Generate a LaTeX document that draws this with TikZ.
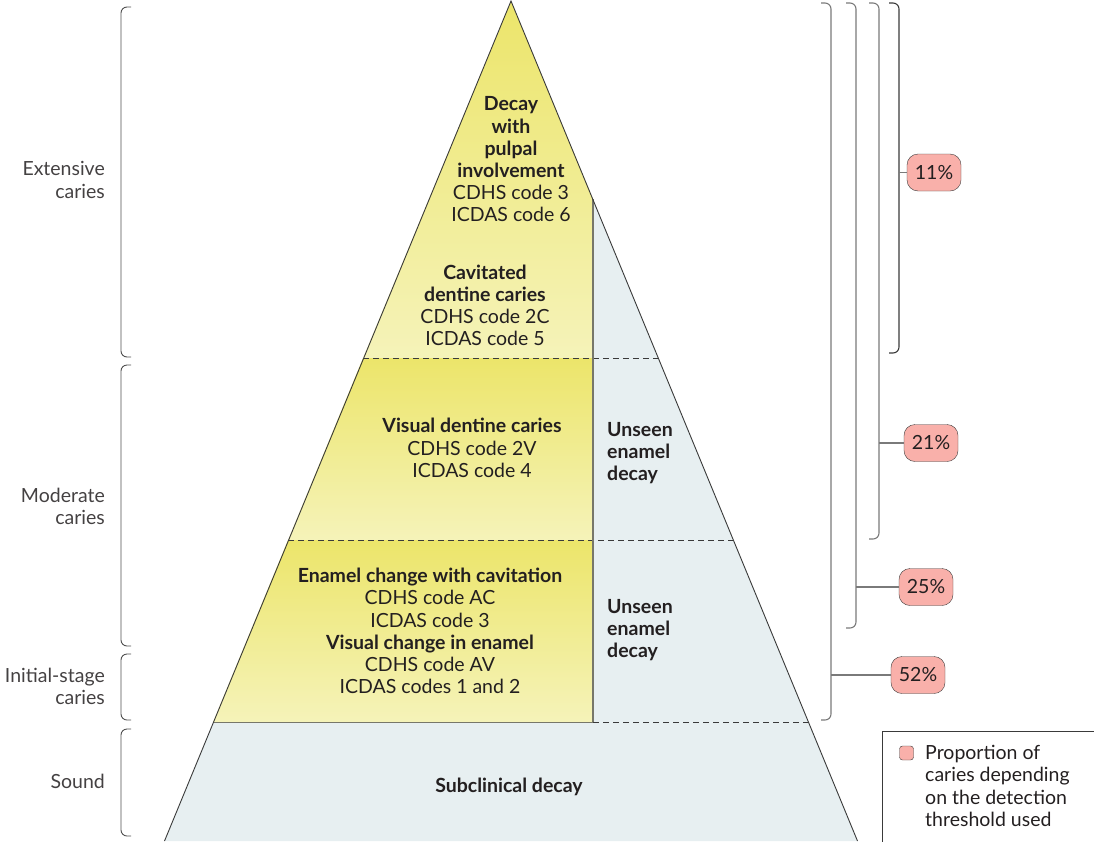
\documentclass[tikz,border=0pt]{standalone}
\usepackage{fontspec}
\setmainfont{Lato}
\definecolor{yel}{HTML}{ECE56A}
\definecolor{yellight}{HTML}{F5F3B9}
\definecolor{bluegrey}{HTML}{E7EFF1}
\definecolor{pinkbox}{HTML}{F9B0AA}
\definecolor{txt}{HTML}{231F20}
\definecolor{linegrey}{HTML}{3A3A3A}
\definecolor{brk}{HTML}{7A7A7A}
\definecolor{divider}{HTML}{77776A}
\begin{document}
\begin{tikzpicture}[x=1pt,y=-1pt,
  lbl/.style={font=\fontsize{19.5}{22.2}\selectfont, text=txt, inner sep=0pt, align=center},
  side/.style={font=\fontsize{19.5}{22.2}\selectfont, text=txt!85, inner sep=0pt, align=right, anchor=east},
  pct/.style={draw=linegrey, fill=pinkbox, rounded corners=11pt, minimum width=54pt, minimum height=37pt, inner sep=0pt, font=\fontsize{19.5}{22}\selectfont, text=txt},
  brack/.style={draw=brk, line width=1.1pt, rounded corners=6pt},
  lbrack/.style={draw=linegrey!90, line width=0.9pt, rounded corners=6pt},
  dashline/.style={draw=linegrey, dashed, dash pattern=on 6pt off 4pt, line width=0.9pt},
  edge/.style={draw=linegrey, line width=0.9pt}
]
\useasboundingbox (0,0) rectangle (1094,841);
% base fill
\fill[bluegrey] (164.5,841) -- (511,1) -- (857.5,841) -- cycle;
% yellow bands
\shade[top color=yel, bottom color=yellight] (511,1) -- (593,199) -- (593,358) -- (363,358) -- cycle;
\shade[top color=yel, bottom color=yellight] (363,358) -- (593,358) -- (593,540) -- (288,540) -- cycle;
\shade[top color=yel, bottom color=yellight] (288,540) -- (593,540) -- (593,722) -- (213,722) -- cycle;
% dividers
\draw[dashline] (363,358) -- (659,358);
\draw[dashline] (288,540) -- (734,540);
\draw[dashline] (593,722) -- (809,722);
\draw[draw=divider, line width=0.9pt] (213,722) -- (593,722);
\draw[draw=divider, line width=1.3pt] (593,199) -- (593,722);
% outline
\draw[edge] (164.5,841) -- (511,1) -- (857.5,841);

% texts in pyramid
\node[lbl] (t1) at (511,159.5) {\textbf{Decay}\\\textbf{with}\\\textbf{pulpal}\\\textbf{involvement}\\CDHS code 3\\ICDAS code 6};
\node[lbl] (t2) at (485,305.5) {\textbf{Cavitated}\\\textbf{dentine caries}\\CDHS code 2C\\ICDAS code 5};
\node[lbl] (t3) at (472,448) {\textbf{Visual dentine caries}\\CDHS code 2V\\ICDAS code 4};
\node[lbl, align=left, anchor=west] (u1) at (607,453) {\textbf{Unseen}\\\textbf{enamel}\\\textbf{decay}};
\node[lbl] (t4) at (430,631) {\textbf{Enamel change with cavitation}\\CDHS code AC\\ICDAS code 3\\\textbf{Visual change in enamel}\\CDHS code AV\\ICDAS codes 1 and 2};
\node[lbl, align=left, anchor=west] (u2) at (607,630) {\textbf{Unseen}\\\textbf{enamel}\\\textbf{decay}};
\node[lbl] (t5) at (509,787) {\textbf{Subclinical decay}};

% left labels and brackets
\node[side] (l1) at (105,180) {Extensive\\caries};
\node[side] (l2) at (105,506) {Moderate\\caries};
\node[side] (l3) at (105,686) {Initial-stage\\caries};
\node[side] (l4) at (105,781) {Sound};
\draw[lbrack] (131,7) -- (121,7) -- (121,357) -- (131,357);
\draw[lbrack] (131,365) -- (121,365) -- (121,646) -- (131,646);
\draw[lbrack] (131,654) -- (121,654) -- (121,720) -- (131,720);
\draw[lbrack] (131,729) -- (121,729) -- (121,836) -- (131,836);

% right brackets
\draw[brack] (821,3) -- (831,3) -- (831,720) -- (821,720);
\draw[brack] (846,3) -- (856,3) -- (856,628) -- (846,628);
\draw[brack] (869,3) -- (879,3) -- (879,539) -- (869,539);
\draw[brack, draw=linegrey] (889,3) -- (899,3) -- (899,353) -- (889,353);
\coordinate (c11) at (899,172.5);
\coordinate (c21) at (879,443);
\coordinate (c25) at (856,587);
\coordinate (c52) at (831,675);
\node[pct] (p11) at (934,172.5) {11\%};
\node[pct] (p21) at (931,443) {21\%};
\node[pct] (p25) at (926,587) {25\%};
\node[pct] (p52) at (918,675) {52\%};
\draw[brk, line width=1.1pt] (c11) -- (p11.west);
\draw[brk, line width=1.1pt] (c21) -- (p21.west);
\draw[brk, line width=1.1pt] (c25) -- (p25.west);
\draw[brk, line width=1.1pt] (c52) -- (p52.west);

% legend
\draw[linegrey, line width=1pt] (882,850) -- (882,731) -- (1100,731);
\node[draw=linegrey, fill=pinkbox, rounded corners=3pt, minimum width=14pt, minimum height=14pt, inner sep=0pt] (key) at (906.5,753) {};
\node[lbl, align=left, anchor=west] (legtext) at (925,786) {Proportion of\\caries depending\\on the detection\\threshold used};
\end{tikzpicture}
\end{document}
